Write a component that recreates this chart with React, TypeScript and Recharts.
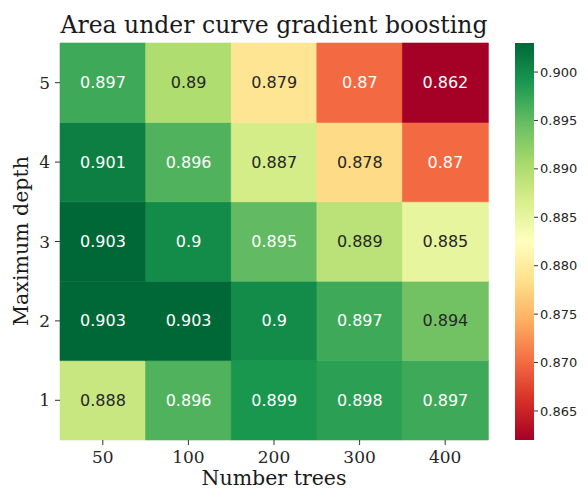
import React from "react";
import { Bar, BarChart, Cell, LabelList, XAxis, YAxis } from "recharts";

const trees = ["50", "100", "200", "300", "400"];
const depths = ["1", "2", "3", "4", "5"];

// auc per depth (rows), across number of trees
const depth1 = [0.888, 0.896, 0.899, 0.898, 0.897];
const depth2 = [0.903, 0.903, 0.9, 0.897, 0.894];
const depth3 = [0.903, 0.9, 0.895, 0.889, 0.885];
const depth4 = [0.901, 0.896, 0.887, 0.878, 0.87];
const depth5 = [0.897, 0.89, 0.879, 0.87, 0.862];
const rows = [depth1, depth2, depth3, depth4, depth5];

const vmin = 0.862;
const vmax = 0.903;
const cbarTicks = [0.865, 0.87, 0.875, 0.88, 0.885, 0.89, 0.895, 0.9];

const rdylgn = [
  "#a50026", "#d73027", "#f46d43", "#fdae61", "#fee08b", "#ffffbf",
  "#d9ef8b", "#a6d96a", "#66bd63", "#1a9850", "#006837",
];

const hexRgb = (h: string) => [1, 3, 5].map((i) => parseInt(h.slice(i, i + 2), 16));

function colorAt(t: number): number[] {
  const x = Math.max(0, Math.min(1, t)) * (rdylgn.length - 1);
  const i = Math.min(Math.floor(x), rdylgn.length - 2);
  const f = x - i;
  const a = hexRgb(rdylgn[i]);
  const b = hexRgb(rdylgn[i + 1]);
  return a.map((v, k) => v + (b[k] - v) * f);
}

const toCss = (c: number[]) => `rgb(${c.map((v) => Math.round(v)).join(",")})`;
const cellColor = (v: number) => toCss(colorAt((v - vmin) / (vmax - vmin)));

function textColor(v: number) {
  const c = colorAt((v - vmin) / (vmax - vmin)).map((x) => {
    const s = x / 255;
    return s <= 0.03928 ? s / 12.92 : Math.pow((s + 0.055) / 1.055, 2.4);
  });
  const lum = 0.2126 * c[0] + 0.7152 * c[1] + 0.0722 * c[2];
  return lum > 0.408 ? "#262626" : "#ffffff";
}

const data = trees.map((t, j) => {
  const row: Record<string, string | number> = { trees: t };
  rows.forEach((r, i) => {
    row["d" + i] = 1;
    row["v" + i] = r[j];
  });
  return row;
});

const cbarData = [{ name: "cbar", range: [vmin, vmax] }];

const serif = "DejaVu Serif";
const sans = "DejaVu Sans";

export default function App() {
  return (
    <div style={{ position: "absolute", left: 0, top: 0, width: 588, height: 490, background: "#fff" }}>
      <div style={{ position: "absolute", left: 0, top: 0 }}>
        <BarChart
          width={500}
          height={490}
          data={data}
          margin={{ top: 43, right: 12, bottom: 0, left: 0 }}
          barCategoryGap={0}
          barGap={0}
        >
          <XAxis
            dataKey="trees"
            height={50}
            axisLine={false}
            tickSize={5}
            tickMargin={6}
            tickLine={{ stroke: "#333" }}
            tick={{ fontFamily: serif, fontSize: 17, fill: "#262626" }}
          />
          <YAxis
            type="number"
            domain={[0, 5]}
            ticks={[0.5, 1.5, 2.5, 3.5, 4.5]}
            tickFormatter={(v: number) => depths[Math.floor(v)]}
            width={60}
            axisLine={false}
            tickSize={5}
            tickMargin={5}
            tickLine={{ stroke: "#333" }}
            tick={{ fontFamily: serif, fontSize: 17, fill: "#262626" }}
          />
          {rows.map((r, i) => (
            <Bar key={i} dataKey={"d" + i} stackId="s" isAnimationActive={false}>
              {r.map((v, j) => (
                <Cell key={j} fill={cellColor(v)} stroke={cellColor(v)} strokeWidth={0.6} />
              ))}
              <LabelList
                dataKey={"v" + i}
                content={(p: any) => {
                  const v = Number(p.value);
                  return (
                    <text
                      x={p.x + p.width / 2}
                      y={p.y + p.height / 2}
                      textAnchor="middle"
                      dominantBaseline="central"
                      fontFamily={sans}
                      fontSize={16}
                      fill={textColor(v)}
                    >
                      {String(v)}
                    </text>
                  );
                }}
              />
            </Bar>
          ))}
        </BarChart>
      </div>
      <div style={{ position: "absolute", left: 508, top: 0 }}>
        <BarChart
          width={80}
          height={490}
          data={cbarData}
          margin={{ top: 43, right: 0, bottom: 50, left: 7 }}
          barCategoryGap={0}
        >
          <defs>
            <linearGradient id="cbar" x1="0" y1="1" x2="0" y2="0">
              {rdylgn.map((c, i) => (
                <stop key={i} offset={i / (rdylgn.length - 1)} stopColor={c} />
              ))}
            </linearGradient>
          </defs>
          <XAxis dataKey="name" hide />
          <YAxis
            orientation="right"
            type="number"
            domain={[vmin, vmax]}
            ticks={cbarTicks}
            tickFormatter={(v: number) => v.toFixed(3)}
            width={54}
            axisLine={false}
            tickSize={4}
            tickLine={{ stroke: "#333" }}
            tick={{ fontFamily: sans, fontSize: 13, fill: "#262626" }}
          />
          <Bar dataKey="range" fill="url(#cbar)" isAnimationActive={false} />
        </BarChart>
      </div>
      <svg width={588} height={490} style={{ position: "absolute", left: 0, top: 0, pointerEvents: "none" }}>
        <text x={274} y={33} textAnchor="middle" fontFamily={serif} fontSize={23.5} fill="#1a1a1a">
          Area under curve gradient boosting
        </text>
        <text x={274} y={485} textAnchor="middle" fontFamily={serif} fontSize={20.5} fill="#1a1a1a">
          Number trees
        </text>
        <text
          x={0}
          y={0}
          transform="translate(28 241) rotate(-90)"
          textAnchor="middle"
          fontFamily={serif}
          fontSize={20.5}
          fill="#1a1a1a"
        >
          Maximum depth
        </text>
      </svg>
    </div>
  );
}
